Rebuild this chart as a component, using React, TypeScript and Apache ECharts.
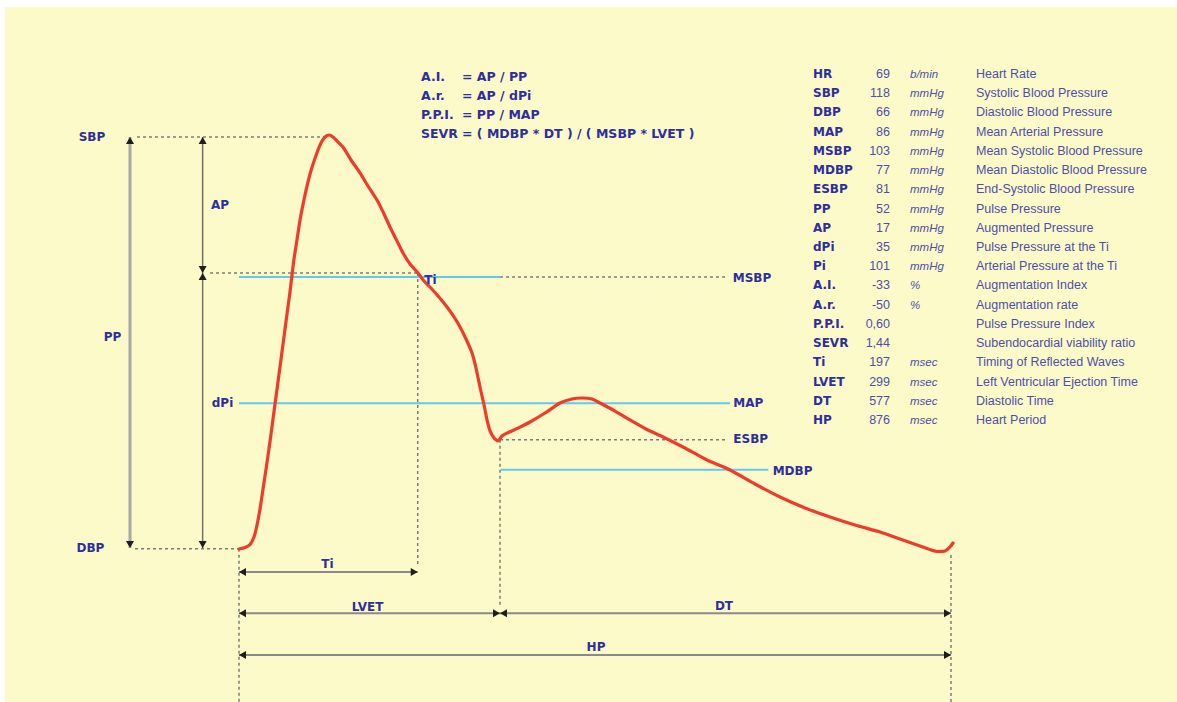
import React, { useEffect, useRef } from "react";
import * as echarts from "echarts";

// ---- Axis extents (time in ms, pressure in mmHg) ----
const timeMin = -294.46;
const timeMax = 1155.67;
const pressMin = 46.516;
const pressMax = 135.333;

// ---- Pressure waveform ----
const curveTime = [
  0, 7.4, 13.6, 18.5, 22.2, 25.9, 29.6, 33.9, 38.8, 43.7, 48.7, 53.6, 58.5, 62.8, 67.1, 71.4, 75.2,
  79.5, 83.8, 89.3, 95.5, 101.0, 106.0, 110.9, 115.8, 122.0, 128.1, 138.0, 149.1, 158.9, 170.0, 178.7,
  186.0, 194.7, 202.1, 210.7, 220.5, 227.9, 235.3, 245.2, 256.3, 264.9, 272.3, 279.7, 287.1, 292.0,
  296.9, 301.9, 305.6, 309.3, 314.2, 319.1, 324.0, 330.2, 343.7, 358.5, 377.0, 395.5, 410.3, 422.6,
  434.9, 444.8, 463.3, 481.7, 501.4, 522.4, 549.5, 576.6, 605.0, 635.7, 666.6, 697.4, 728.2, 759.0,
  789.8, 814.4, 839.0, 860.0, 869.8, 876.0, 879.7,
];
const curvePressure = [
  65.87, 66.06, 66.44, 67.39, 68.91, 70.93, 73.46, 76.37, 79.92, 83.71, 87.51, 91.3, 95.1, 98.39,
  102.06, 104.97, 107.5, 109.78, 111.8, 113.95, 115.85, 117.24, 118.0, 118.25, 118.0, 117.37, 116.73,
  115.09, 113.45, 111.8, 110.03, 108.26, 106.61, 104.84, 103.32, 101.93, 100.79, 99.78, 99.02, 97.88,
  96.49, 95.23, 93.96, 92.44, 90.67, 88.77, 86.37, 84.09, 82.2, 80.81, 79.92, 79.54, 80.17, 80.53, 81.17,
  81.94, 83.08, 84.34, 84.85, 84.98, 84.85, 84.34, 83.33, 82.2, 81.06, 80.05, 78.65, 77.13, 75.87, 74.1,
  72.45, 71.06, 69.92, 68.91, 68.02, 67.14, 66.25, 65.56, 65.62, 66.13, 66.63,
];

// ---- Reference levels (mmHg) and times (ms) as drawn ----
const levelSBP = 118;
const levelPi = 100.8;
const levelMSBP = 100.3;
const levelMAP = 84.3;
const levelESBP = 79.7;
const levelMDBP = 75.9;
const levelDBP = 65.9;
const timeFoot = 0;
const timeTi = 220.2;
const timeLVET = 321.6;
const timeHP = 877.2;

const dottedSegments: number[][][] = [
  [[-125.7, levelSBP], [108.4, levelSBP]],
  [[-35.7, levelPi], [timeTi, levelPi]],
  [[timeLVET, levelMSBP], [600.9, levelMSBP]],
  [[timeLVET, levelESBP], [600.9, levelESBP]],
  [[-128.1, levelDBP], [timeFoot, levelDBP]],
  [[timeFoot, levelDBP], [timeFoot, pressMin]],
  [[timeTi, levelPi], [timeTi, 63.6]],
  [[timeLVET, levelESBP], [timeLVET, 58.5]],
  [[timeHP, 65.1], [timeHP, pressMin]],
];

const cyanSegments: number[][][] = [
  [[timeFoot, levelMSBP], [timeLVET, levelMSBP]],
  [[timeFoot, levelMAP], [605.0, levelMAP]],
  [[322.4, levelMDBP], [652.2, levelMDBP]],
];

const arrowNames = ["PP", "AP", "dPi", "Ti", "LVET", "DT", "HP"];
const arrowSegments: number[][][] = [
  [[-134.3, levelSBP], [-134.3, 66]],
  [[-44.8, levelSBP], [-44.8, levelPi]],
  [[-44.8, levelPi], [-44.8, 66]],
  [[timeFoot, 62.96], [timeTi, 62.96]],
  [[timeFoot, 57.74], [timeLVET, 57.74]],
  [[timeLVET, 57.74], [timeHP, 57.74]],
  [[timeFoot, 52.46], [timeHP, 52.46]],
];
const arrowWidths = [3, 1.5, 1.5, 2, 2, 2, 2];
const arrowColors = ["#a8a8a8", "#707070", "#707070", "#8a8a8a", "#8a8a8a", "#8a8a8a", "#8a8a8a"];

// ---- Diagram labels ----
const labelNames = ["SBP", "PP", "DBP", "AP", "dPi", "Ti", "MSBP", "MAP", "ESBP", "MDBP", "Ti", "LVET", "DT", "HP"];
const labelTime = [-181.1, -155.9, -183.0, -23.4, -20.3, 235.9, 608.3, 609.0, 609.0, 657.5, 109.0, 158.3, 597.5, 439.9];
const labelPressure = [118.0, 92.7, 65.96, 109.4, 84.3, 99.9, 100.1, 84.3, 79.75, 75.8, 63.98, 58.57, 58.66, 53.44];
const labelAnchor = ["c", "c", "c", "c", "c", "c", "l", "l", "l", "l", "c", "c", "c", "c"];

// ---- Formulas ----
const formulaNames = ["A.I.", "A.r.", "P.P.I.", "SEVR"];
const formulaExprs = ["= AP / PP", "= AP / dPi", "= PP / MAP", "= ( MDBP * DT ) / ( MSBP * LVET )"];

// ---- Parameter table ----
const tableNames = ["HR", "SBP", "DBP", "MAP", "MSBP", "MDBP", "ESBP", "PP", "AP", "dPi", "Pi", "A.I.", "A.r.", "P.P.I.", "SEVR", "Ti", "LVET", "DT", "HP"];
const tableValues = ["69", "118", "66", "86", "103", "77", "81", "52", "17", "35", "101", "-33", "-50", "0,60", "1,44", "197", "299", "577", "876"];
const tableUnits = ["b/min", "mmHg", "mmHg", "mmHg", "mmHg", "mmHg", "mmHg", "mmHg", "mmHg", "mmHg", "mmHg", "%", "%", "", "", "msec", "msec", "msec", "msec"];
const tableDescs = [
  "Heart Rate", "Systolic Blood Pressure", "Diastolic Blood Pressure", "Mean Arterial Pressure",
  "Mean Systolic Blood Pressure", "Mean Diastolic Blood Pressure", "End-Systolic Blood Pressure",
  "Pulse Pressure", "Augmented Pressure", "Pulse Pressure at the Ti", "Arterial Pressure at the Ti",
  "Augmentation Index", "Augmentation rate", "Pulse Pressure Index", "Subendocardial viability ratio",
  "Timing of Reflected Waves", "Left Ventricular Ejection Time", "Diastolic Time", "Heart Period",
];

const BLUE_BOLD = "#2e2e9e";
const BLUE_LIGHT = "#4f4fa8";
const RED = "#ee3b2b";
const CYAN = "#62c9ef";
const DOT = "#7c7c7c";
const HEAD = "#1e1e1e";

function headItems() {
  const items: any[] = [];
  const half = 3.5;
  arrowSegments.forEach((seg) => {
    const [a, b] = seg;
    if (a[0] === b[0]) {
      const aTop = a[1] > b[1];
      items.push({ value: a, symbolRotate: aTop ? 0 : 180, symbolOffset: [0, aTop ? half : -half] });
      items.push({ value: b, symbolRotate: aTop ? 180 : 0, symbolOffset: [0, aTop ? -half : half] });
    } else {
      const aLeft = a[0] < b[0];
      items.push({ value: a, symbolRotate: aLeft ? 90 : -90, symbolOffset: [aLeft ? half : -half, 0] });
      items.push({ value: b, symbolRotate: aLeft ? -90 : 90, symbolOffset: [aLeft ? -half : half, 0] });
    }
  });
  return items;
}

function buildOption() {
  const series: any[] = [];

  dottedSegments.forEach((seg) => {
    series.push({
      type: "line", data: seg, symbol: "none", silent: true, z: 1,
      lineStyle: { color: DOT, width: 1.5, type: [3, 3] },
    });
  });

  cyanSegments.forEach((seg) => {
    series.push({
      type: "line", data: seg, symbol: "none", silent: true, z: 2,
      lineStyle: { color: CYAN, width: 2 },
    });
  });

  arrowSegments.forEach((seg, i) => {
    series.push({
      type: "line", name: arrowNames[i], data: seg, symbol: "none", silent: true, z: 2,
      lineStyle: { color: arrowColors[i], width: arrowWidths[i] },
    });
  });

  series.push({
    type: "scatter",
    name: "arrowheads",
    symbol: "triangle",
    symbolSize: [8, 7],
    silent: true,
    z: 3,
    itemStyle: { color: HEAD, opacity: 1 },
    data: headItems(),
  });

  series.push({
    type: "line",
    name: "Pressure",
    data: curveTime.map((t, i) => [t, curvePressure[i]]),
    symbol: "none",
    smooth: 0.2,
    silent: true,
    z: 4,
    lineStyle: { color: RED, width: 3.2, cap: "round", join: "round" },
  });

  series.push({
    type: "scatter",
    symbolSize: 0,
    silent: true,
    z: 6,
    itemStyle: { color: "rgba(0,0,0,0)", opacity: 1 },
    label: {
      show: true,
      formatter: "{b}",
      color: BLUE_BOLD,
      opacity: 1,
      fontFamily: "DejaVu Sans",
      fontWeight: "bold",
      fontSize: 12,
      textBorderWidth: 0,
      position: [0, 0],
      verticalAlign: "middle",
    },
    data: labelNames.map((n, i) => ({
      name: n,
      value: [labelTime[i], labelPressure[i]],
      label: { align: labelAnchor[i] === "l" ? "left" : "center" },
    })),
  });

  const graphics: any[] = [];
  const txt = (text: string, x: number, y: number, opts: any) => ({
    type: "text",
    x,
    y,
    silent: true,
    z: 10,
    style: {
      text,
      fill: opts.fill,
      fontFamily: opts.family,
      fontSize: opts.size,
      fontWeight: opts.weight || "normal",
      fontStyle: opts.italic ? "italic" : "normal",
      align: opts.align || "left",
      textAlign: opts.align || "left",
      verticalAlign: "middle",
      textVerticalAlign: "middle",
    },
  });

  formulaNames.forEach((n, i) => {
    const y = 76.5 + i * 19;
    graphics.push(txt(n, 421, y, { fill: BLUE_BOLD, family: "DejaVu Sans", size: 12.5, weight: "bold" }));
    graphics.push(txt(formulaExprs[i], 462, y, { fill: BLUE_BOLD, family: "DejaVu Sans", size: 12.5, weight: "bold" }));
  });

  tableNames.forEach((n, i) => {
    const y = 74 + i * 19.22;
    graphics.push(txt(n, 813, y, { fill: BLUE_BOLD, family: "DejaVu Sans", size: 12, weight: "bold" }));
    graphics.push(txt(tableValues[i], 890, y, { fill: BLUE_LIGHT, family: "Liberation Sans", size: 12.5, align: "right" }));
    if (tableUnits[i]) {
      graphics.push(txt(tableUnits[i], 910, y, { fill: BLUE_LIGHT, family: "Liberation Sans", size: 11.5, italic: true }));
    }
    graphics.push(txt(tableDescs[i], 976, y, { fill: BLUE_LIGHT, family: "Liberation Sans", size: 12.5 }));
  });

  return {
    animation: false,
    backgroundColor: "transparent",
    grid: { left: 0, right: 0, top: 0, bottom: 0, outerBoundsMode: "none", containLabel: false },
    xAxis: { type: "value", min: timeMin, max: timeMax, show: false },
    yAxis: { type: "value", min: pressMin, max: pressMax, show: false },
    tooltip: { show: false },
    series,
    graphic: graphics,
  };
}

export default function App() {
  const ref = useRef<HTMLDivElement>(null);
  useEffect(() => {
    if (!ref.current) return;
    const chart = echarts.init(ref.current, null, { renderer: "svg" });
    chart.setOption(buildOption() as any);
    return () => chart.dispose();
  }, []);
  return (
    <div style={{ position: "absolute", left: 0, top: 0, width: 1177, height: 702, background: "#ffffff", overflow: "hidden" }}>
      <div style={{ position: "absolute", left: 5, top: 7, right: 0, bottom: 0, background: "#fcfac8" }} />
      <div ref={ref} style={{ position: "absolute", left: 0, top: 0, width: 1177, height: 702 }} />
    </div>
  );
}
